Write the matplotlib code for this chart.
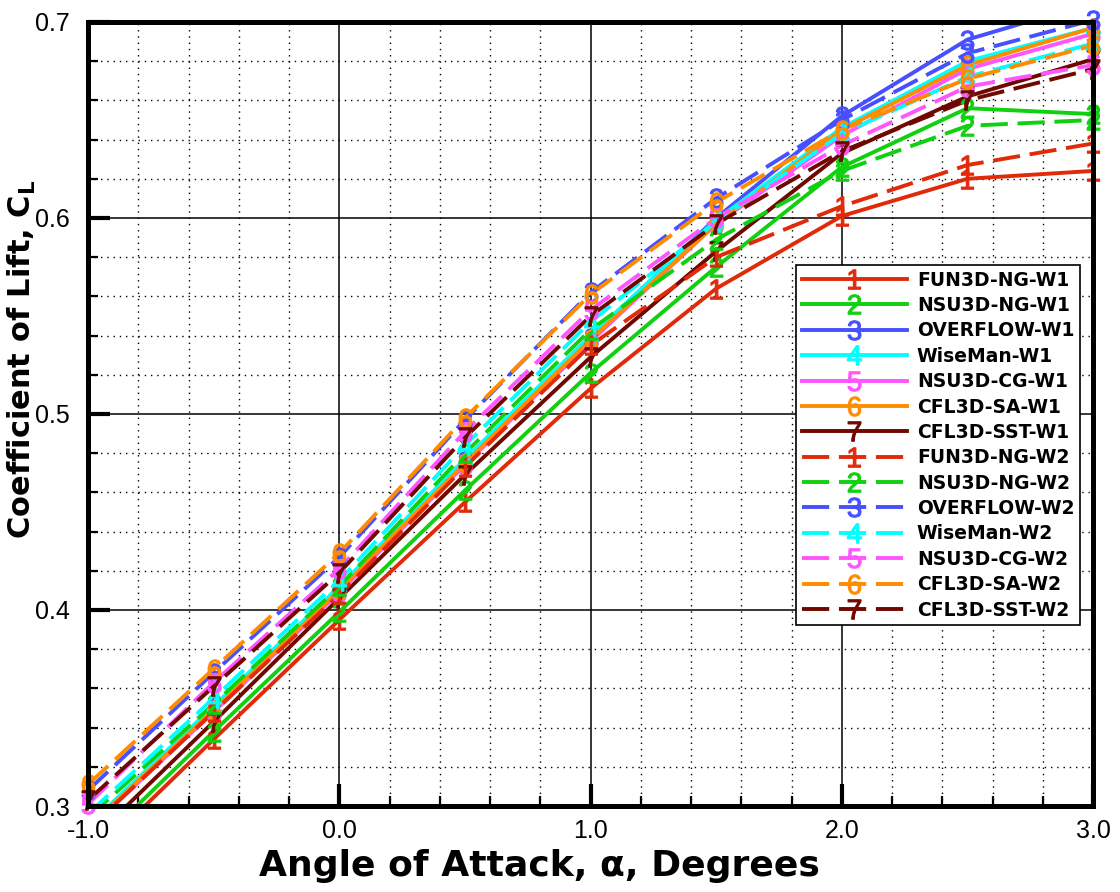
import numpy as np
import matplotlib.pyplot as plt
from matplotlib.lines import Line2D
from matplotlib.ticker import MultipleLocator

plt.rcParams['font.family'] = ['Liberation Sans', 'DejaVu Sans']
plt.rcParams['mathtext.fontset'] = 'custom'
plt.rcParams['mathtext.rm'] = 'Liberation Sans'
plt.rcParams['mathtext.it'] = 'Liberation Sans:italic'
plt.rcParams['mathtext.bf'] = 'DejaVu Sans:bold'

alpha = [-1.0, -0.5, 0.0, 0.5, 1.0, 1.5, 2.0, 2.5, 3.0]

# wing 1
fun3d_ng_w1 = [0.272, 0.334, 0.395, 0.455, 0.513, 0.564, 0.601, 0.620, 0.624]
nsu3d_ng_w1 = [0.276, 0.338, 0.399, 0.461, 0.521, 0.575, 0.626, 0.656, 0.653]
overflow_w1 = [0.289, 0.350, 0.410, 0.476, 0.539, 0.600, 0.652, 0.691, 0.710]
wiseman_w1 = [0.290, 0.351, 0.412, 0.477, 0.540, 0.599, 0.646, 0.680, 0.697]
nsu3d_cg_w1 = [0.288, 0.348, 0.409, 0.474, 0.537, 0.597, 0.642, 0.676, 0.694]
cfl3d_sa_w1 = [0.289, 0.349, 0.410, 0.475, 0.538, 0.597, 0.645, 0.678, 0.697]
cfl3d_sst_w1 = [0.281, 0.343, 0.406, 0.469, 0.529, 0.583, 0.633, 0.662, 0.681]

# wing 2
fun3d_ng_w2 = [0.288, 0.348, 0.408, 0.473, 0.535, 0.580, 0.606, 0.627, 0.638]
nsu3d_ng_w2 = [0.294, 0.352, 0.412, 0.480, 0.543, 0.589, 0.624, 0.647, 0.650]
overflow_w2 = [0.308, 0.368, 0.427, 0.497, 0.562, 0.610, 0.650, 0.684, 0.701]
wiseman_w2 = [0.296, 0.355, 0.415, 0.484, 0.547, 0.598, 0.643, 0.672, 0.689]
nsu3d_cg_w2 = [0.301, 0.363, 0.421, 0.491, 0.553, 0.600, 0.637, 0.667, 0.678]
cfl3d_sa_w2 = [0.311, 0.370, 0.429, 0.498, 0.561, 0.608, 0.645, 0.671, 0.688]
cfl3d_sst_w2 = [0.303, 0.361, 0.419, 0.488, 0.550, 0.597, 0.634, 0.660, 0.676]

codes = ['FUN3D-NG', 'NSU3D-NG', 'OVERFLOW', 'WiseMan', 'NSU3D-CG', 'CFL3D-SA', 'CFL3D-SST']
colors = ['#e02a0a', '#10d010', '#4650ff', '#00ffff', '#ff55ff', '#ff8c00', '#6e0800']
w1 = [fun3d_ng_w1, nsu3d_ng_w1, overflow_w1, wiseman_w1, nsu3d_cg_w1, cfl3d_sa_w1, cfl3d_sst_w1]
w2 = [fun3d_ng_w2, nsu3d_ng_w2, overflow_w2, wiseman_w2, nsu3d_cg_w2, cfl3d_sa_w2, cfl3d_sst_w2]

ymin, ymax = 0.3, 0.7

fig = plt.figure(figsize=(11.2, 8.92), dpi=100)
ax = fig.add_axes([0.0786, 0.0964, 0.8974, 0.879])

handles = []
for wing, ls, data in [('W1', '-', w1), ('W2', (0, (7, 2.5)), w2)]:
    for i, (code, c, y) in enumerate(zip(codes, colors, data)):
        mk = r'$\mathrm{%d}$' % (i + 1)
        ax.plot(alpha, y, color=c, lw=2.8, ls=ls, zorder=3)
        # number symbols, only where the point sits inside the frame
        x = np.array(alpha)
        yy = np.array(y)
        ok = (yy >= ymin - 0.003) & (yy <= ymax + 0.003)
        ax.plot(x[ok], yy[ok], ls='none', marker=mk, ms=14, color=c,
                mec=c, mew=0.8, zorder=4, clip_on=False)
        handles.append(Line2D([], [], color=c, lw=2.8, ls=ls, marker=mk, ms=14,
                              mec=c, mew=0.8, label=code + '-' + wing))

ax.set_xlim(-1, 3)
ax.set_ylim(ymin, ymax)

ax.xaxis.set_minor_locator(MultipleLocator(0.2))
ax.yaxis.set_minor_locator(MultipleLocator(0.02))
ax.set_xticks([-1, 0, 1, 2, 3])
ax.set_xticklabels(['-1.0', '0.0', '1.0', '2.0', '3.0'])
ax.set_yticks([0.3, 0.4, 0.5, 0.6, 0.7])
ax.set_yticklabels(['0.3', '0.4', '0.5', '0.6', '0.7'])

ax.grid(True, which='major', color='black', lw=1.1, ls='-', zorder=1)
ax.grid(True, which='minor', color='black', lw=1.0, ls=(0, (1, 3.5)), zorder=1)
ax.set_axisbelow(True)

ax.tick_params(which='major', direction='in', length=16, width=3, labelsize=18,
               top=False, right=False, pad=9)
ax.tick_params(which='minor', direction='in', length=7, width=1.6, top=False, right=False)
ax.tick_params(axis='y', pad=13)

for s in ax.spines.values():
    s.set_linewidth(3.6)
    s.set_zorder(5)

ax.set_xlabel('Angle of Attack, α, Degrees', fontsize=26, fontweight='bold',
              family='DejaVu Sans')
ax.xaxis.set_label_coords(0.449, -0.055)
ax.xaxis.label.set_va('top')
ax.set_ylabel(r'Coefficient of Lift, C$_\mathbf{L}$', fontsize=22, fontweight='bold',
              family='DejaVu Sans')
ax.yaxis.set_label_coords(-0.05, 0.57)

leg = ax.legend(handles=handles, loc='upper right', bbox_to_anchor=(0.987, 0.690),
                borderaxespad=0, prop={'family': 'DejaVu Sans', 'weight': 'bold', 'size': 13.5},
                handlelength=5.6, handletextpad=0.55, labelspacing=0.34,
                numpoints=1, fancybox=False, framealpha=1, edgecolor='black',
                borderpad=0.3)
leg.get_frame().set_linewidth(1.2)
leg.set_zorder(6)

fig.savefig('out.png', dpi=100)
